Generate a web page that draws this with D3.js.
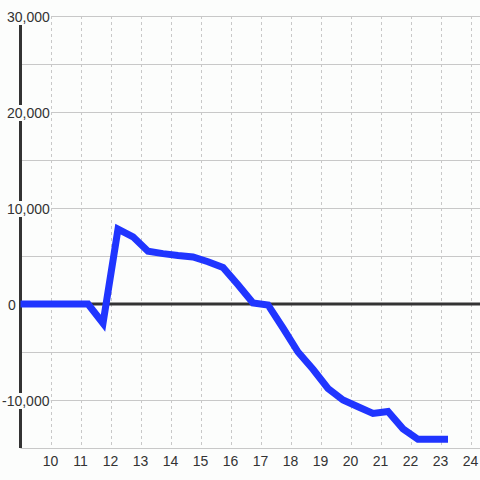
<!DOCTYPE html>
<html><head><meta charset="utf-8">
<script src="https://cdn.jsdelivr.net/npm/d3@7"></script>
<style>body{margin:0;background:#fcfdfc}svg{display:block}</style>
</head><body><div id="chart"></div>
<script>
const xValues = [9, 11.25, 11.75, 12.25, 12.75, 13.25, 13.75, 14.25, 14.75, 15.25, 15.75, 16.25, 16.75, 17.25, 17.75, 18.25, 18.75, 19.25, 19.75, 20.25, 20.75, 21.25, 21.75, 22.25, 22.75, 23.25];
const yValues = [0, 0, -2000, 7800, 7000, 5500, 5250, 5050, 4900, 4400, 3800, 2000, 100, -100, -2500, -5000, -6800, -8800, -10000, -10700, -11400, -11200, -13000, -14100, -14100, -14100];
const xTicks = [10, 11, 12, 13, 14, 15, 16, 17, 18, 19, 20, 21, 22, 23, 24];
const yGrid = [30000, 25000, 20000, 15000, 10000, 5000, 0, -5000, -10000, -15000];
const yLabels = [30000, 20000, 10000, 0, -10000];

const W = 480, H = 480, bg = "#fcfdfc";
const svg = d3.select("#chart").append("svg").attr("width", W).attr("height", H);
svg.append("rect").attr("width", W).attr("height", H).attr("fill", bg);

const x = d3.scaleLinear().domain([9, 25]).range([20.5, 500.5]);
const y = d3.scaleLinear().domain([-15000, 30000]).range([448, 16]);

// vertical dashed grid
svg.append("g").selectAll("line").data(xTicks).join("line")
  .attr("x1", d => Math.round(x(d)) + 0.5).attr("x2", d => Math.round(x(d)) + 0.5)
  .attr("y1", y(30000)).attr("y2", y(-15000))
  .attr("stroke", "#c8c8c8").attr("stroke-width", 1).attr("stroke-dasharray", "3,3");

// horizontal grid
svg.append("g").selectAll("line").data(yGrid.filter(d => d !== 0)).join("line")
  .attr("x1", x(9)).attr("x2", W)
  .attr("y1", d => y(d) + 0.5).attr("y2", d => y(d) + 0.5)
  .attr("stroke", "#c8c8c8").attr("stroke-width", 1);

// left axis
svg.append("line").attr("x1", x(9)).attr("x2", x(9)).attr("y1", y(30000)).attr("y2", y(-15000))
  .attr("stroke", "#333").attr("stroke-width", 3);
// zero line
svg.append("line").attr("x1", x(9)).attr("x2", W).attr("y1", y(0)).attr("y2", y(0))
  .attr("stroke", "#333").attr("stroke-width", 3);

// y labels with background
const font = "'Liberation Sans', Arial, sans-serif";
const yl = svg.append("g").selectAll("g").data(yLabels).join("g");
yl.each(function(d) {
  const g = d3.select(this);
  const t = g.append("text")
    .attr("x", d < 0 ? 2 : (d === 0 ? 8 : 7))
    .attr("y", y(d) + 6)
    .attr("font-family", font).attr("font-size", 14).attr("fill", "#333")
    .text(d3.format(",")(d).replace("−", "-"));
  const b = t.node().getBBox();
  g.insert("rect", "text").attr("x", b.x - 1).attr("y", b.y).attr("width", b.width + 2).attr("height", b.height)
    .attr("fill", bg);
});

// x labels
svg.append("g").selectAll("text").data(xTicks).join("text")
  .attr("x", d => x(d)).attr("y", 466).attr("text-anchor", "middle")
  .attr("font-family", font).attr("font-size", 14).attr("fill", "#333")
  .text(d => d);

// data line
const data = xValues.map((v, i) => [v, yValues[i]]);
svg.append("path").datum(data)
  .attr("d", d3.line().x(d => x(d[0])).y(d => y(d[1])))
  .attr("fill", "none").attr("stroke", "#2035ff").attr("stroke-width", 7);
</script></body></html>
